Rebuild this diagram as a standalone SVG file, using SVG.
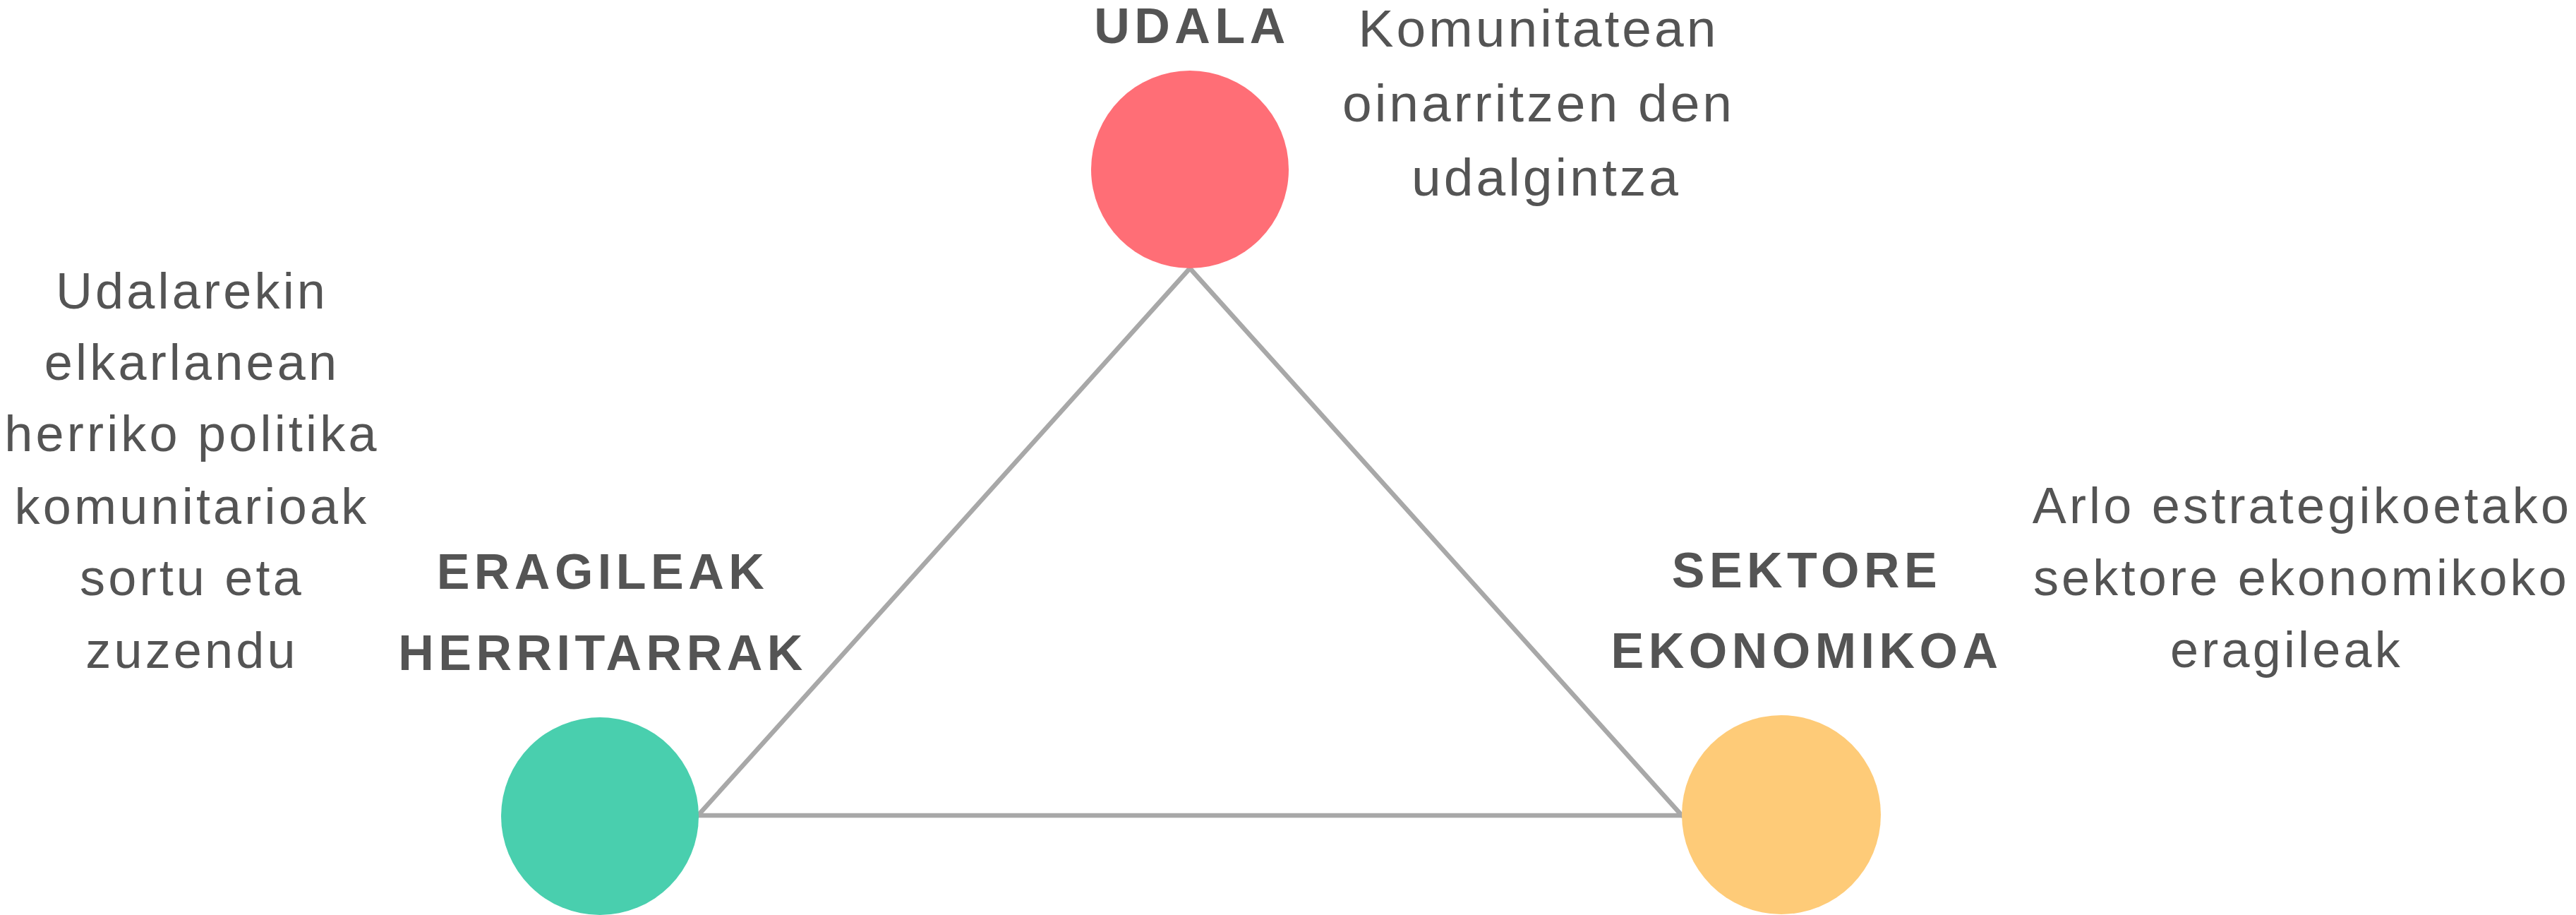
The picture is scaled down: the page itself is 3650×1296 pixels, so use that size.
<svg xmlns="http://www.w3.org/2000/svg" width="3650" height="1296" viewBox="0 0 3650 1296">
<style>
.edge{stroke:#a8a8a8;stroke-width:6.5;fill:none;stroke-linecap:round}
.title{font-family:"Liberation Sans",Arial,sans-serif;font-weight:bold;font-size:70px;letter-spacing:6.5px;fill:#545454;text-anchor:middle}
.desc{font-family:"Liberation Sans",Arial,sans-serif;font-size:72px;letter-spacing:4.2px;fill:#545454;text-anchor:middle}
.big{font-size:75px;letter-spacing:4px}
</style>
<rect width="3650" height="1296" fill="#ffffff"/>
<g id="connectors">
<line class="edge" x1="1686" y1="380" x2="989" y2="1155"/>
<line class="edge" x1="989" y1="1155" x2="2383" y2="1155"/>
<line class="edge" x1="2383" y1="1155" x2="1686" y2="380"/>
</g>
<g id="udala">
<circle cx="1686" cy="240" r="140" fill="#FF6E76"/>
<text class="title" x="1689" y="61">UDALA</text>
<text class="desc big" x="2180" y="66">Komunitatean</text>
<text class="desc big" x="2180" y="172">oinarritzen den</text>
<text class="desc big" x="2191" y="277">udalgintza</text>
</g>
<g id="eragileak">
<circle cx="850" cy="1156" r="140" fill="#49CFAE"/>
<text class="title" x="854" y="834">ERAGILEAK</text>
<text class="title" x="854" y="949">HERRITARRAK</text>
<text class="desc" x="272" y="437">Udalarekin</text>
<text class="desc" x="272" y="538">elkarlanean</text>
<text class="desc" x="272" y="639">herriko politika</text>
<text class="desc" x="272" y="742">komunitarioak</text>
<text class="desc" x="272" y="843">sortu eta</text>
<text class="desc" x="272" y="946">zuzendu</text>
</g>
<g id="sektore">
<circle cx="2524" cy="1154" r="141" fill="#FECB78"/>
<text class="title" x="2560" y="832">SEKTORE</text>
<text class="title" x="2560" y="946">EKONOMIKOA</text>
<text class="desc" x="3262" y="741">Arlo estrategikoetako</text>
<text class="desc" x="3261" y="843">sektore ekonomikoko</text>
<text class="desc" x="3240" y="945">eragileak</text>
</g>
</svg>
